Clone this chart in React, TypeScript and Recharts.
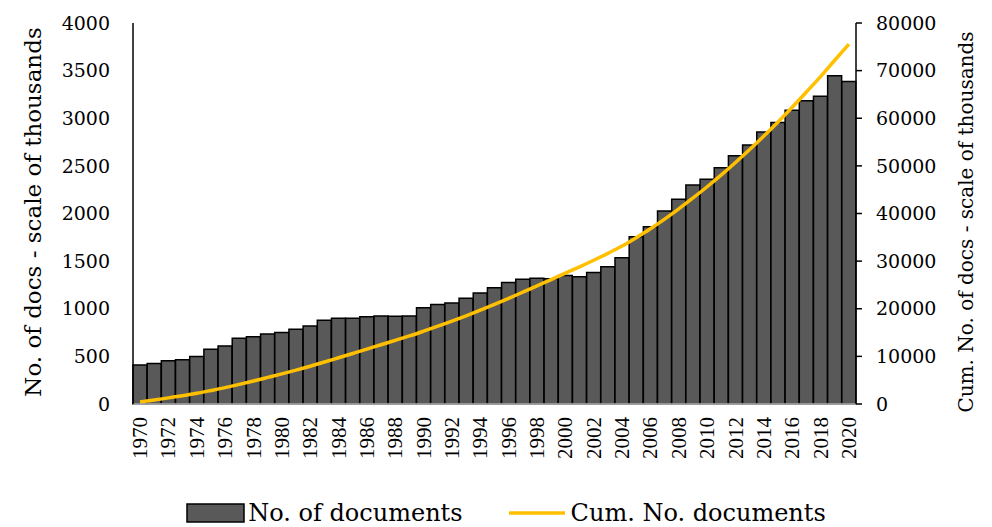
import { ComposedChart, Bar, Line, XAxis, YAxis } from 'recharts';

const years = [
  '1970', '1971', '1972', '1973', '1974', '1975', '1976', '1977', '1978', '1979',
  '1980', '1981', '1982', '1983', '1984', '1985', '1986', '1987', '1988', '1989',
  '1990', '1991', '1992', '1993', '1994', '1995', '1996', '1997', '1998', '1999',
  '2000', '2001', '2002', '2003', '2004', '2005', '2006', '2007', '2008', '2009',
  '2010', '2011', '2012', '2013', '2014', '2015', '2016', '2017', '2018', '2019',
  '2020',
];

// documents per year (thousands)
const docs = [
  410, 425, 455, 465, 500, 575, 610, 690, 705, 735,
  750, 785, 820, 880, 900, 900, 915, 925, 920, 925,
  1010, 1045, 1060, 1110, 1165, 1220, 1275, 1310, 1320, 1315,
  1350, 1335, 1380, 1440, 1535, 1755, 1860, 2025, 2150, 2300,
  2360, 2480, 2605, 2720, 2855, 2955, 3085, 3185, 3230, 3445,
  3385,
];

// cumulative documents (thousands)
const cumDocs = [
  410, 830, 1290, 1750, 2250, 2830, 3440, 4130, 4840, 5580,
  6330, 7110, 7930, 8810, 9710, 10610, 11520, 12450, 13370, 14290,
  15300, 16350, 17410, 18520, 19690, 20910, 22180, 23490, 24810, 26130,
  27480, 28810, 30190, 31630, 33170, 34930, 36790, 38810, 40960, 43260,
  45620, 48100, 50710, 53430, 56280, 59230, 62320, 65510, 68740, 72180,
  75560,
];

const leftTicks = [0, 500, 1000, 1500, 2000, 2500, 3000, 3500, 4000];
const rightTicks = [0, 10000, 20000, 30000, 40000, 50000, 60000, 70000, 80000];

const barName = 'No. of documents';
const lineName = 'Cum. No. documents';
const leftTitle = 'No. of docs - scale of thousands';
const rightTitle = 'Cum. No. of docs - scale of thousands';

const data = years.map((year, i) => ({ year, docs: docs[i], cum: cumDocs[i] }));

const serif = '"DejaVu Serif", serif';
const timesLike = '"Liberation Serif", serif';

const YearTick = (props: any) => {
  const { x, y, payload } = props;
  return (
    <text
      x={x}
      y={y}
      transform={`rotate(-90 ${x} ${y})`}
      dx={-5}
      textAnchor="end"
      dominantBaseline="central"
      fontFamily={timesLike}
      fontSize={21}
      fill="#000"
    >
      {payload.value}
    </text>
  );
};

const LeftTitle = () => (
  <text
    x={33}
    y={212}
    transform="rotate(-90 33 212)"
    textAnchor="middle"
    dominantBaseline="central"
    fontFamily={serif}
    fontSize={23}
    fill="#000"
  >
    {leftTitle}
  </text>
);

const RightTitle = () => (
  <text
    x={966}
    y={222}
    transform="rotate(-90 966 222)"
    textAnchor="middle"
    dominantBaseline="central"
    fontFamily={serif}
    fontSize={20}
    fill="#000"
  >
    {rightTitle}
  </text>
);

export default function App() {
  return (
    <div style={{ position: 'absolute', left: 0, top: 0, width: 992, height: 527, background: '#fff' }}>
      <ComposedChart
        width={992}
        height={527}
        data={data}
        margin={{ top: 23, right: 0, left: 0, bottom: 0 }}
        barCategoryGap={0}
      >
        <XAxis
          dataKey="year"
          interval={1}
          tickLine={false}
          axisLine={{ stroke: '#bfbfbf', strokeWidth: 1.5 }}
          height={123}
          tick={<YearTick />}
        />
        <YAxis
          yAxisId="left"
          width={133}
          domain={[0, 4000]}
          ticks={leftTicks}
          tickLine={false}
          tickSize={0}
          tickMargin={23}
          axisLine={{ stroke: '#000', strokeWidth: 1.5 }}
          tick={{ fontFamily: serif, fontSize: 19, fill: '#000' }}
          label={LeftTitle}
        />
        <YAxis
          yAxisId="right"
          orientation="right"
          width={136}
          domain={[0, 80000]}
          ticks={rightTicks}
          tickLine={{ stroke: '#000', strokeWidth: 1.5 }}
          tickSize={6}
          tickMargin={14}
          axisLine={{ stroke: '#000', strokeWidth: 1.5 }}
          tick={{ fontFamily: serif, fontSize: 19, fill: '#000' }}
          label={RightTitle}
        />
        <Bar
          yAxisId="left"
          dataKey="docs"
          name={barName}
          fill="#595959"
          stroke="#000"
          strokeWidth={1.5}
          isAnimationActive={false}
        />
        <Line
          yAxisId="right"
          type="monotone"
          dataKey="cum"
          name={lineName}
          stroke="#FFC000"
          strokeWidth={3.5}
          dot={false}
          isAnimationActive={false}
        />
      </ComposedChart>
      <div
        style={{
          position: 'absolute',
          left: 0,
          top: 499,
          width: 992,
          display: 'flex',
          justifyContent: 'center',
          alignItems: 'center',
          gap: 46,
          fontFamily: serif,
          fontSize: 24,
          color: '#000',
          paddingLeft: 10,
        }}
      >
        <span style={{ display: 'flex', alignItems: 'center' }}>
          <svg width={60} height={20} style={{ marginRight: 2 }}>
            <rect x={1} y={1} width={57} height={18} fill="#595959" stroke="#000" strokeWidth={1.5} />
          </svg>
          {barName}
        </span>
        <span style={{ display: 'flex', alignItems: 'center' }}>
          <svg width={58} height={20} style={{ marginRight: 4 }}>
            <line x1={0} y1={10} x2={56} y2={10} stroke="#FFC000" strokeWidth={3.5} />
          </svg>
          {lineName}
        </span>
      </div>
    </div>
  );
}
